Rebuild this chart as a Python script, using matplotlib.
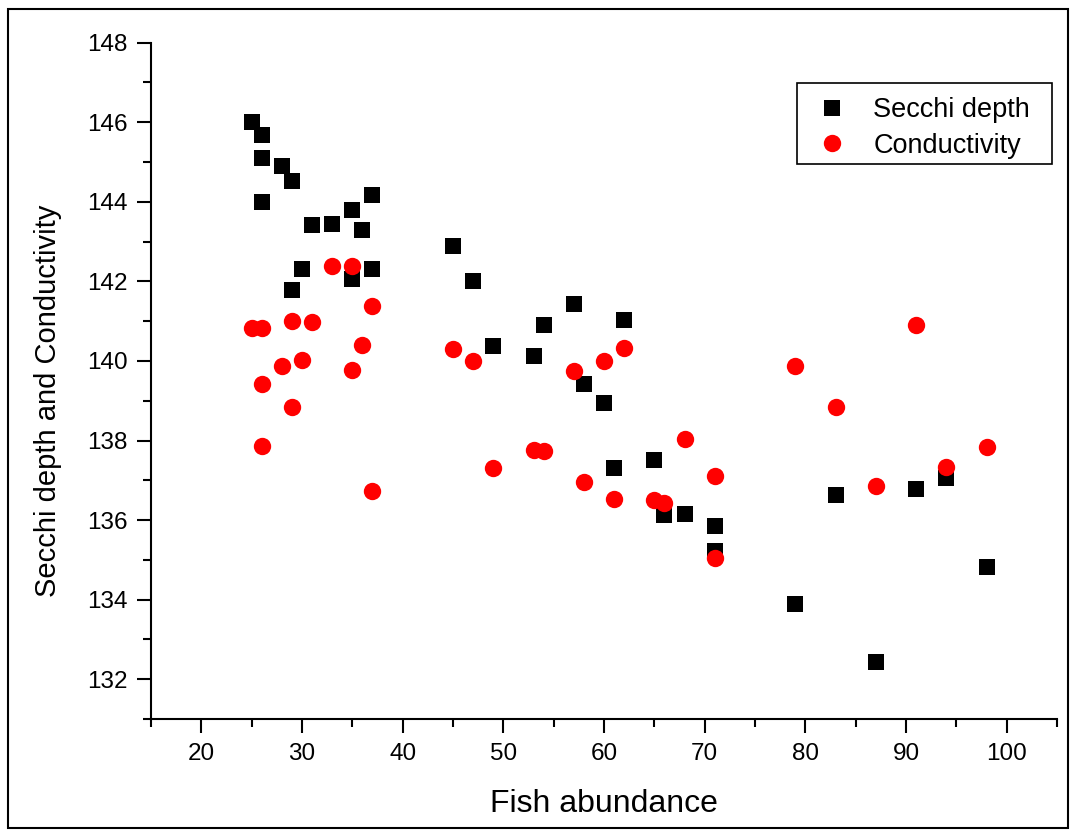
import matplotlib.pyplot as plt
from matplotlib.patches import Rectangle
from matplotlib.ticker import MultipleLocator

plt.rcParams['font.family'] = ['Liberation Sans', 'DejaVu Sans']

# fish abundance for each sampling site (shared by both series)
fish = [25, 26, 26, 26, 28, 29, 29, 30, 31, 33, 35, 35, 36, 37, 37, 45, 47, 49,
        53, 54, 57, 58, 60, 61, 62, 65, 66, 68, 71, 71, 79, 83, 87, 91, 94, 98]

secchi = [146.0, 145.67, 145.10, 144.0, 144.89, 144.53, 141.79, 142.32, 143.42,
          143.45, 143.8, 142.06, 143.30, 144.18, 142.32, 142.88, 142.02, 140.37,
          140.12, 140.91, 141.43, 139.41, 138.95, 137.31, 141.04, 137.51, 136.12,
          136.16, 135.85, 135.22, 133.88, 136.63, 132.44, 136.77, 137.06, 134.82]

conductivity = [140.84, 140.84, 139.43, 137.87, 139.87, 141.01, 138.84, 140.02,
                140.97, 142.38, 142.38, 139.77, 140.39, 141.37, 136.74, 140.30,
                139.99, 137.31, 137.77, 137.73, 139.76, 136.95, 140.0, 136.52,
                140.33, 136.5, 136.44, 138.04, 137.10, 135.05, 139.87, 138.85,
                136.85, 140.91, 137.33, 137.83]

W, H = 1072, 832
fig = plt.figure(figsize=(W / 100, H / 100), dpi=100)
ax = fig.add_axes([151 / W, 113 / H, 906 / W, 676.3 / H])

ax.plot(fish, secchi, linestyle="none", marker="s", markersize=11,
        color="black", markeredgewidth=0, label="Secchi depth")
ax.plot(fish, conductivity, linestyle="none", marker="o", markersize=12.5,
        color="#ff0000", markeredgewidth=0, label="Conductivity")

ax.set_xlim(15, 105)
ax.set_ylim(131, 148)
ax.xaxis.set_major_locator(MultipleLocator(10))
ax.xaxis.set_minor_locator(MultipleLocator(5))
ax.yaxis.set_major_locator(MultipleLocator(2))
ax.yaxis.set_minor_locator(MultipleLocator(1))

ax.spines["top"].set_visible(False)
ax.spines["right"].set_visible(False)
for s in ("left", "bottom"):
    ax.spines[s].set_linewidth(1.5)
ax.tick_params(which="major", direction="out", length=10, width=1.5,
               labelsize=17.5, pad=7)
ax.tick_params(which="minor", direction="out", length=5.5, width=1.5)

ax.set_xlabel("Fish abundance", fontsize=23)
ax.set_ylabel("Secchi depth and Conductivity", fontsize=21)
ax.xaxis.set_label_coords(0.5, -0.1035)
ax.yaxis.set_label_coords(-0.098, 0.47)

# legend entries without frame, box drawn separately
ax.legend(loc="upper left", bbox_to_anchor=(0.7337, 0.9197),
          borderaxespad=0, borderpad=0, fontsize=19.5, handlelength=1.2,
          handletextpad=0.92, labelspacing=0.36, frameon=False)
ax.add_patch(Rectangle((0.713, 0.8206), 0.9945 - 0.713, 0.9404 - 0.8206,
                       transform=ax.transAxes, fill=False, edgecolor="black",
                       linewidth=1.2, clip_on=False, zorder=5))

# border around the whole figure
fig.add_artist(Rectangle((8 / W, 4 / H), 1060 / W, 819 / H, transform=fig.transFigure,
                         fill=False, edgecolor="black", linewidth=1.5))

fig.savefig("out.png", dpi=100)
